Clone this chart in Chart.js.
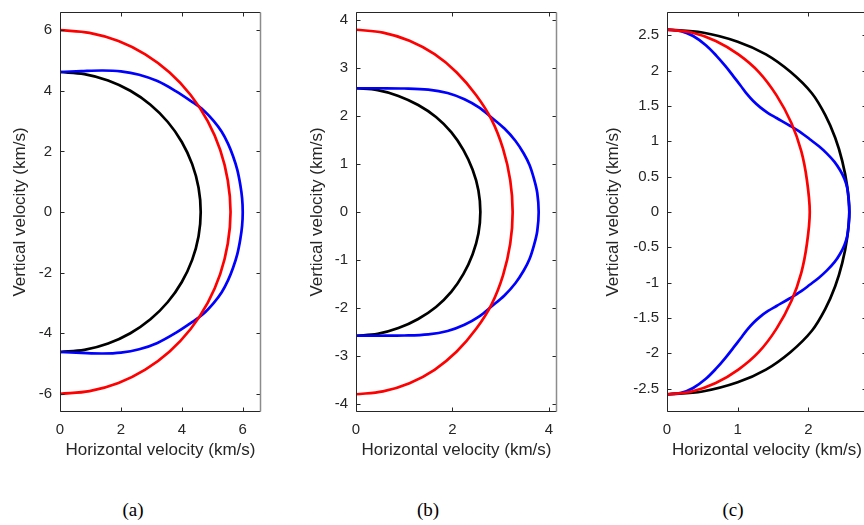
<!DOCTYPE html>
<html>
<head>
<meta charset="utf-8">
<script src="https://cdn.jsdelivr.net/npm/chart.js@4.4.1/dist/chart.umd.min.js"></script>
<style>
  html, body { margin: 0; padding: 0; background: #fff; width: 864px; height: 525px; overflow: hidden; }
  .panel { position: absolute; top: 0; }
  .cap { position: absolute; top: 500px; line-height: 1; font-family: 'Liberation Serif', 'Times New Roman', serif;
         font-size: 19px; color: #000; transform: translateX(-50%); }
</style>
</head>
<body>
<div class="panel" style="left:10px"><canvas id="velA" width="254" height="470" style="width:254px;height:470px"></canvas></div>
<div class="panel" style="left:306px"><canvas id="velB" width="254" height="470" style="width:254px;height:470px"></canvas></div>
<div class="panel" style="left:602px"><canvas id="velC" width="268" height="470" style="width:268px;height:470px"></canvas></div>
<div class="cap" style="left:133px">(a)</div>
<div class="cap" style="left:428px">(b)</div>
<div class="cap" style="left:733px">(c)</div>

<script>
// ---- panel (a) ----
const xTicksA = [0, 2, 4, 6];
const yTicksA = [-6, -4, -2, 0, 2, 4, 6];
const blackA = [[0,4.62],[0.80,4.55],[1.58,4.34],[2.31,4.00],[2.97,3.54],[3.54,2.97],[4.00,2.31],[4.34,1.58],[4.55,0.80],[4.62,0],
  [4.55,-0.80],[4.34,-1.58],[4.00,-2.31],[3.54,-2.97],[2.97,-3.54],[2.31,-4.00],[1.58,-4.34],[0.80,-4.55],[0,-4.62]];
const redA = [[0,6.00],[0.97,5.91],[1.92,5.64],[2.80,5.20],[3.60,4.60],[4.29,3.86],[4.85,3.00],[5.26,2.05],[5.51,1.04],[5.60,0],
  [5.51,-1.04],[5.26,-2.05],[4.85,-3.00],[4.29,-3.86],[3.60,-4.60],[2.80,-5.20],[1.92,-5.64],[0.97,-5.91],[0,-6.00]];
const blueA = [[0,4.62],[0.7,4.65],[1.4,4.67],[2.0,4.64],[2.6,4.53],[3.2,4.32],[3.8,3.99],[4.3,3.66],[4.71,3.36],[5.05,3.00],
  [5.31,2.65],[5.52,2.25],[5.68,1.85],[5.82,1.40],[5.92,0.90],[5.98,0.45],[6.00,0],
  [5.98,-0.45],[5.92,-0.90],[5.82,-1.40],[5.68,-1.85],[5.52,-2.25],[5.31,-2.65],[5.05,-3.00],[4.71,-3.36],[4.3,-3.66],
  [3.8,-3.99],[3.2,-4.32],[2.6,-4.53],[2.0,-4.64],[1.4,-4.67],[0.7,-4.65],[0,-4.62]];

// ---- panel (b) ----
const xTicksB = [0, 2, 4];
const yTicksB = [-4, -3, -2, -1, 0, 1, 2, 3, 4];
const blackB = [[0,2.58],[0.45,2.54],[0.88,2.42],[1.29,2.23],[1.66,1.98],[1.98,1.66],[2.23,1.29],[2.42,0.88],[2.54,0.45],[2.58,0],
  [2.54,-0.45],[2.42,-0.88],[2.23,-1.29],[1.98,-1.66],[1.66,-1.98],[1.29,-2.23],[0.88,-2.42],[0.45,-2.54],[0,-2.58]];
const redB = [[0,3.80],[0.56,3.74],[1.11,3.57],[1.63,3.29],[2.09,2.91],[2.49,2.44],[2.81,1.93],[3.05,1.32],[3.20,0.66],[3.25,0],
  [3.20,-0.66],[3.05,-1.32],[2.81,-1.93],[2.49,-2.44],[2.09,-2.91],[1.63,-3.29],[1.11,-3.57],[0.56,-3.74],[0,-3.80]];
const blueB = [[0,2.58],[0.5,2.58],[1.0,2.575],[1.5,2.55],[1.9,2.48],[2.25,2.35],[2.55,2.18],[2.81,1.97],[3.08,1.74],[3.31,1.48],
  [3.48,1.22],[3.60,0.98],[3.69,0.70],[3.76,0.40],[3.79,0],
  [3.76,-0.40],[3.69,-0.70],[3.60,-0.98],[3.48,-1.22],[3.31,-1.48],[3.08,-1.74],[2.81,-1.97],[2.55,-2.18],[2.25,-2.35],
  [1.9,-2.48],[1.5,-2.55],[1.0,-2.575],[0.5,-2.58],[0,-2.58]];

// ---- panel (c) ----
const xTicksC = [0, 1, 2];
const yTicksC = [-2.5, -2, -1.5, -1, -0.5, 0, 0.5, 1, 1.5, 2, 2.5];
const blackC = [[0,2.58],[0.5,2.54],[1.0,2.41],[1.4,2.23],[1.75,1.98],[2.05,1.68],[2.24,1.37],[2.38,1.05],[2.48,0.72],[2.55,0.36],[2.58,0],
  [2.55,-0.36],[2.48,-0.72],[2.38,-1.05],[2.24,-1.37],[2.05,-1.68],[1.75,-1.98],[1.4,-2.23],[1.0,-2.41],[0.5,-2.54],[0,-2.58]];
const redC = [[0,2.58],[0.35,2.54],[0.69,2.42],[1.01,2.23],[1.30,1.98],[1.55,1.65],[1.76,1.26],[1.90,0.86],[1.98,0.45],[2.02,0],
  [1.98,-0.45],[1.90,-0.86],[1.76,-1.26],[1.55,-1.65],[1.30,-1.98],[1.01,-2.23],[0.69,-2.42],[0.35,-2.54],[0,-2.58]];
const blueC = [[0,2.58],[0.2,2.56],[0.37,2.49],[0.55,2.36],[0.70,2.21],[0.83,2.06],[0.94,1.92],[1.04,1.79],[1.13,1.67],[1.22,1.57],
  [1.32,1.48],[1.43,1.40],[1.55,1.33],[1.74,1.22],[1.90,1.12],[2.02,1.03],[2.15,0.93],[2.26,0.83],[2.37,0.71],[2.45,0.59],
  [2.51,0.47],[2.55,0.34],[2.57,0.18],[2.58,0],
  [2.57,-0.18],[2.55,-0.34],[2.51,-0.47],[2.45,-0.59],[2.37,-0.71],[2.26,-0.83],[2.15,-0.93],[2.02,-1.03],[1.90,-1.12],
  [1.74,-1.22],[1.55,-1.33],[1.43,-1.40],[1.32,-1.48],[1.22,-1.57],[1.13,-1.67],[1.04,-1.79],[0.94,-1.92],[0.83,-2.06],
  [0.70,-2.21],[0.55,-2.36],[0.37,-2.49],[0.2,-2.56],[0,-2.58]];

const FONT = "'Liberation Sans', Arial, Helvetica, sans-serif";
const INK = '#262626';

// box around the plot area with inward tick marks on all four sides
const boxTicks = {
  id: 'boxTicks',
  afterDatasetsDraw(chart) {
    const { ctx, chartArea: a, scales: { x, y } } = chart;
    const L = Math.round(a.left) + 0.5, R = Math.round(a.right) - 0.5;
    const T = Math.round(a.top) + 0.5, B = Math.round(a.bottom) - 0.5;
    const len = 4;
    ctx.save();
    ctx.lineWidth = 1;
    ctx.strokeStyle = INK;
    ctx.beginPath();
    x.ticks.forEach(t => {
      const px = Math.round(x.getPixelForValue(t.value)) + 0.5;
      ctx.moveTo(px, B); ctx.lineTo(px, B - len);
      ctx.moveTo(px, T); ctx.lineTo(px, T + len);
    });
    y.ticks.forEach(t => {
      const py = Math.round(y.getPixelForValue(t.value)) + 0.5;
      ctx.moveTo(L, py); ctx.lineTo(L + len, py);
      ctx.moveTo(R, py); ctx.lineTo(R - len, py);
    });
    ctx.moveTo(L, T); ctx.lineTo(L, B); ctx.lineTo(R, B);
    ctx.moveTo(L, T); ctx.lineTo(R, T);
    ctx.stroke();
    ctx.strokeStyle = '#8c8c8c';
    ctx.lineWidth = 1.5;
    ctx.beginPath();
    ctx.moveTo(R, T); ctx.lineTo(R, B);
    ctx.stroke();
    ctx.restore();
  }
};

function makePanel(id, curves, xMax, yMax, xTicks, yTicks, axisW, yTitlePad) {
  new Chart(document.getElementById(id), {
    type: 'scatter',
    data: {
      datasets: curves.map(c => ({
        data: c.pts.map(([x, y]) => ({ x, y })),
        borderColor: c.color,
        borderWidth: 2.7,
        showLine: true,
        pointRadius: 0,
        tension: 0.35,
        fill: false
      }))
    },
    options: {
      responsive: false,
      animation: false,
      events: [],
      layout: { padding: { top: 12, right: 3, left: 0, bottom: 0 } },
      plugins: { legend: { display: false }, tooltip: { enabled: false } },
      scales: {
        x: {
          type: 'linear', min: 0, max: xMax,
          grid: { display: false, drawTicks: false },
          border: { display: false },
          ticks: { padding: 9, autoSkip: false, maxRotation: 0, color: INK, font: { family: FONT, size: 15 }, callback: v => String(v) },
          title: { display: true, text: 'Horizontal velocity (km/s)', color: INK, font: { family: FONT, size: 17 }, padding: { top: 0, bottom: 9 } },
          afterBuildTicks: s => { s.ticks = xTicks.map(v => ({ value: v })); },
          afterFit: s => { s.height = 58; s.paddingLeft = 0; s.paddingRight = 0; }
        },
        y: {
          type: 'linear', min: -yMax, max: yMax,
          grid: { display: false, drawTicks: false },
          border: { display: false },
          ticks: { padding: 8, autoSkip: false, color: INK, font: { family: FONT, size: 15 }, callback: v => String(v) },
          title: { display: true, text: 'Vertical velocity (km/s)', color: INK, font: { family: FONT, size: 17 }, padding: { top: yTitlePad, bottom: 0 } },
          afterBuildTicks: s => { s.ticks = yTicks.map(v => ({ value: v })); },
          afterFit: s => { s.width = axisW; s.paddingTop = 0; s.paddingBottom = 0; }
        }
      }
    },
    plugins: [boxTicks]
  });
}

// red drawn last so it sits on top
makePanel('velA', [
  { pts: redA, color: '#ff0000' },
  { pts: blueA, color: '#0000ff' },
  { pts: blackA, color: '#000000' }
], 6.6, 6.6, xTicksA, yTicksA, 50, 0);

makePanel('velB', [
  { pts: redB, color: '#ff0000' },
  { pts: blueB, color: '#0000ff' },
  { pts: blackB, color: '#000000' }
], 4.17, 4.17, xTicksB, yTicksB, 50, 1);

makePanel('velC', [
  { pts: redC, color: '#ff0000' },
  { pts: blueC, color: '#0000ff' },
  { pts: blackC, color: '#000000' }
], 2.83, 2.83, xTicksC, yTicksC, 65, 1);
</script>
</body>
</html>
